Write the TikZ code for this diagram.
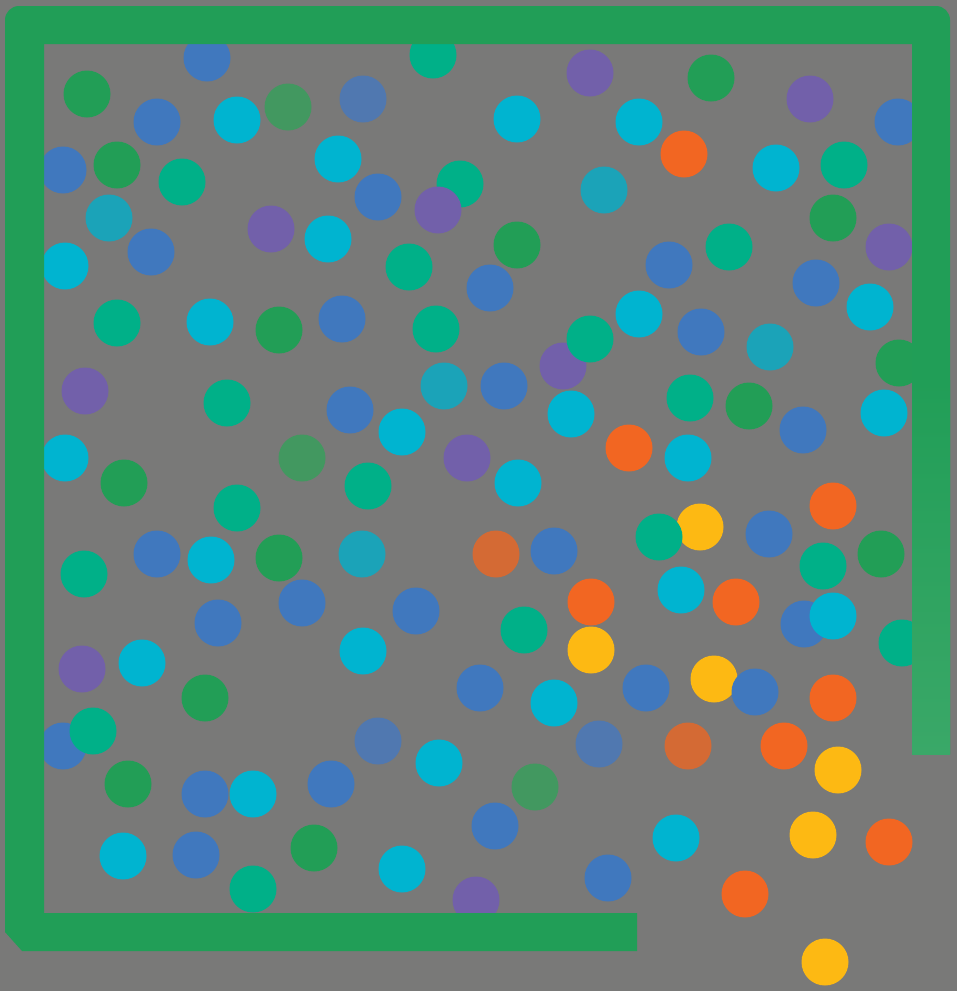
\documentclass[tikz,border=0pt]{standalone}
\definecolor{bgc}{RGB}{121,121,120}
\definecolor{blu}{RGB}{64,120,190}
\definecolor{cya}{RGB}{0,180,208}
\definecolor{eme}{RGB}{0,176,136}
\definecolor{grn}{RGB}{34,158,86}
\definecolor{pur}{RGB}{114,96,170}
\definecolor{ora}{RGB}{242,102,34}
\definecolor{yel}{RGB}{253,185,19}
\definecolor{tbl}{RGB}{27,163,184}
\definecolor{mgr}{RGB}{66,152,96}
\definecolor{mbl}{RGB}{80,120,176}
\definecolor{mor}{RGB}{212,106,52}
\definecolor{wallc}{RGB}{33,158,87}
\definecolor{walll}{RGB}{58,168,104}
\newcommand\bll[3]{\fill[#1] (#2,#3) circle[radius=23.5];}
\begin{document}
\begin{tikzpicture}[x=1pt,y=-1pt]
\fill[bgc] (0,0) rectangle (957,991);
\useasboundingbox (0,0) rectangle (957,991);
% balls
\bll{blu}{207}{58}
\bll{eme}{433}{55}
\bll{grn}{87}{94}
\bll{blu}{157}{122}
\bll{mgr}{288}{107}
\bll{cya}{237}{120}
\bll{mbl}{363}{99}
\bll{blu}{63}{170}
\bll{grn}{117}{165}
\bll{eme}{182}{182}
\bll{cya}{338}{159}
\bll{blu}{378}{197}
\bll{eme}{460}{184}
\bll{pur}{438}{210}
\bll{tbl}{109}{218}
\bll{blu}{151}{252}
\bll{pur}{271}{229}
\bll{cya}{328}{239}
\bll{cya}{65}{266}
\bll{eme}{409}{267}
\bll{eme}{117}{323}
\bll{cya}{210}{322}
\bll{grn}{279}{330}
\bll{blu}{342}{319}
\bll{eme}{436}{329}
\bll{pur}{85}{391}
\bll{eme}{227}{403}
\bll{blu}{350}{410}
\bll{tbl}{444}{386}
\bll{cya}{402}{432}
\bll{cya}{65}{458}
\bll{mgr}{302}{458}
\bll{pur}{467}{458}
\bll{grn}{124}{483}
\bll{eme}{237}{508}
\bll{eme}{368}{486}
\bll{pur}{590}{73}
\bll{grn}{711}{78}
\bll{pur}{810}{99}
\bll{blu}{898}{122}
\bll{cya}{517}{119}
\bll{cya}{639}{122}
\bll{ora}{684}{154}
\bll{cya}{776}{168}
\bll{eme}{844}{165}
\bll{tbl}{604}{190}
\bll{grn}{833}{218}
\bll{pur}{889}{247}
\bll{grn}{517}{245}
\bll{blu}{669}{265}
\bll{eme}{729}{247}
\bll{blu}{816}{283}
\bll{cya}{870}{307}
\bll{blu}{490}{288}
\bll{cya}{639}{314}
\bll{pur}{563}{366}
\bll{eme}{590}{339}
\bll{blu}{701}{332}
\bll{tbl}{770}{347}
\bll{grn}{899}{363}
\bll{blu}{504}{386}
\bll{cya}{571}{414}
\bll{eme}{690}{398}
\bll{grn}{749}{406}
\bll{blu}{803}{430}
\bll{cya}{884}{413}
\bll{ora}{629}{448}
\bll{cya}{688}{458}
\bll{cya}{518}{483}
\bll{ora}{833}{506}
\bll{yel}{700}{527}
\bll{eme}{659}{537}
\bll{blu}{769}{534}
\bll{mor}{496}{554}
\bll{blu}{554}{551}
\bll{eme}{823}{566}
\bll{grn}{881}{554}
\bll{cya}{681}{590}
\bll{ora}{591}{602}
\bll{ora}{736}{602}
\bll{blu}{804}{624}
\bll{cya}{833}{616}
\bll{eme}{902}{643}
\bll{eme}{524}{630}
\bll{yel}{591}{650}
\bll{blu}{480}{688}
\bll{cya}{554}{703}
\bll{blu}{646}{688}
\bll{yel}{714}{679}
\bll{blu}{755}{692}
\bll{ora}{833}{698}
\bll{mbl}{599}{744}
\bll{mor}{688}{746}
\bll{ora}{784}{746}
\bll{yel}{838}{770}
\bll{mgr}{535}{787}
\bll{blu}{495}{826}
\bll{cya}{676}{838}
\bll{yel}{813}{835}
\bll{ora}{889}{842}
\bll{blu}{608}{878}
\bll{ora}{745}{894}
\bll{yel}{825}{962}
\bll{pur}{476}{900}
\bll{blu}{157}{554}
\bll{cya}{211}{560}
\bll{grn}{279}{558}
\bll{tbl}{362}{554}
\bll{eme}{84}{574}
\bll{blu}{302}{603}
\bll{blu}{416}{611}
\bll{blu}{218}{623}
\bll{cya}{363}{651}
\bll{pur}{82}{669}
\bll{cya}{142}{663}
\bll{grn}{205}{698}
\bll{blu}{63}{746}
\bll{eme}{93}{731}
\bll{mbl}{378}{741}
\bll{cya}{439}{763}
\bll{grn}{128}{784}
\bll{blu}{205}{794}
\bll{cya}{253}{794}
\bll{blu}{331}{784}
\bll{cya}{123}{856}
\bll{blu}{196}{855}
\bll{grn}{314}{848}
\bll{eme}{253}{889}
\bll{cya}{402}{869}
% walls
\fill[wallc] (637,951) -- (22,951) -- (5,932) -- (5,20)
  arc[start angle=180,end angle=270,radius=14] -- (936,6)
  arc[start angle=270,end angle=360,radius=14] -- (950,754) -- (912,754)
  -- (912,44) -- (44,44) -- (44,913) -- (637,913) -- cycle;
\shade[top color=wallc,bottom color=walll] (912,380) rectangle (950,754);
\end{tikzpicture}
\end{document}
